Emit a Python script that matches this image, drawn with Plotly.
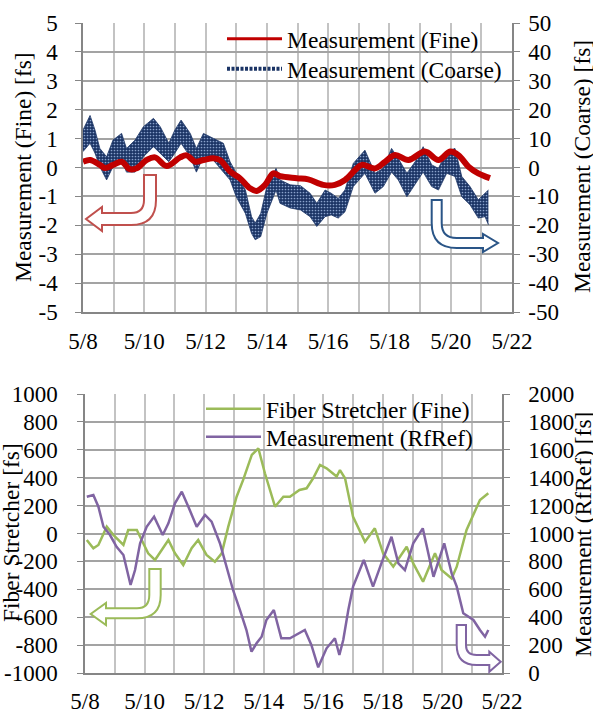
import plotly.graph_objects as go

W, H = 593, 711

# ---------------- data (day of May) ----------------
fine_day = [8.0, 8.23, 8.55, 8.72, 8.98, 9.26, 9.53, 9.75, 10.08, 10.35, 10.73, 11.17, 11.38, 11.66,
            11.93, 12.25, 12.47, 12.8, 13.12, 13.45, 13.67, 13.94, 14.21, 14.43, 14.98, 15.35, 15.84,
            16.22, 16.55, 16.88, 17.1, 17.53, 17.86, 18.18, 18.62, 19.16, 19.6, 19.98, 20.25, 20.58,
            20.9, 21.28]
fine_val = [0.2, 0.26, 0.09, -0.02, 0.09, 0.2, -0.06, -0.03, 0.26, 0.35, 0.05, 0.35, 0.42, 0.2,
            0.26, 0.32, 0.26, -0.14, -0.37, -0.72, -0.81, -0.6, -0.2, -0.3, -0.37, -0.41, -0.6,
            -0.6, -0.43, -0.09, 0.09, -0.03, 0.2, 0.43, 0.26, 0.55, 0.26, 0.55, 0.43, 0.03,
            -0.2, -0.37]

coarse_day = [8.0, 8.23, 8.39, 8.55, 8.77, 8.98, 9.26, 9.42, 9.7, 9.97,
              10.3, 10.52, 10.8, 11.0, 11.2, 11.5, 11.7, 11.93, 12.25, 12.58,
              12.8, 13.0, 13.3, 13.5, 13.62, 13.8, 14.0, 14.3, 14.43, 14.76,
              15.1, 15.41, 15.63, 15.9, 16.1, 16.33, 16.55, 16.82, 17.2, 17.53,
              17.8, 18.07, 18.29, 18.57, 18.84, 19.1, 19.38, 19.6, 19.87, 20.14,
              20.36, 20.63, 20.9, 21.12, 21.23]
coarse_hi = [13, 18, 13, 6.6, 3.7, 9.5, 11.8, 6.6, 9.5, 14.1,
             17, 14.1, 8.4, 13, 16.4, 11.8, 6.6, 11.8, 10.1, 8.4,
             2, -2, -7.8, -17, -19.2, -15.9, -6.6, -0.3, -4.3, -6,
             -6.3, -8.9, -12.4, -7.8, -8.9, -10.7, -7.8, 1.4, 6, -2,
             -0.3, 6.6, 3.1, -2, 2, 7.2, 0.9, -0.3, 5.5, 6.6,
             -3.1, -6.6, -11.2, -8.9, -7.8]
coarse_lo = [5.5, 8.4, 5, 0.3, -4.3, 0.3, 2.6, -1.6, -1.6, 3.7,
             7.2, 4.9, 2, 5, 8.4, 3.7, -1.6, 3.7, 2.6, -1.6,
             -4.3, -10.1, -15.9, -22.8, -25, -23.9, -15.9, -7.8, -12.4, -14,
             -14.7, -17, -20.4, -17, -16.4, -17.5, -15.3, -6.6, -2, -8.9,
             -6.6, -1.6, -4.3, -10.1, -6, -1.6, -6.6, -7.8, -2, -3.1,
             -10.1, -12.9, -17.5, -17, -19.8]

fs_day = [8.06, 8.28, 8.45, 8.73, 8.95, 9.29, 9.45, 9.74, 9.85, 10.12,
          10.35, 10.8, 11.02, 11.3, 11.58, 11.8, 12.08, 12.36, 12.59, 12.81,
          13.09, 13.31, 13.6, 13.82, 14.04, 14.38, 14.66, 14.88, 15.2, 15.44,
          15.66, 15.89, 16.11, 16.45, 16.56, 16.73, 17.0, 17.4, 17.73, 18.01,
          18.35, 18.8, 19.02, 19.35, 19.75, 19.97, 20.31, 20.48, 20.81, 21.26,
          21.54]
fs_val = [-47, -106, -82, 49, -10, -82, 25, 25, -23, -142,
          -190, -47, -142, -226, -106, -47, -154, -202, -142, 49,
          264, 384, 563, 611, 432, 192, 264, 264, 312, 324,
          396, 491, 467, 408, 455, 396, 120, -59, 37, -142,
          -238, -95, -214, -346, -142, -262, -322, -238, 25, 240,
          288]

rf_day = [8.06, 8.28, 8.45, 8.62, 8.84, 9.06, 9.29, 9.53, 9.68, 9.85,
          10.07, 10.32, 10.61, 10.8, 11.02, 11.25, 11.47, 11.75, 12.03, 12.25,
          12.53, 12.75, 12.97, 13.2, 13.42, 13.59, 13.76, 13.93, 14.09, 14.34,
          14.59, 14.88, 15.16, 15.38, 15.6, 15.83, 16.11, 16.39, 16.54, 16.67,
          16.84, 17.0, 17.36, 17.67, 17.95, 18.29, 18.52, 18.74, 19.02, 19.34,
          19.7, 20.06, 20.31, 20.48, 20.7, 21.04, 21.26, 21.43, 21.54]
rf_val = [1264, 1276, 1192, 1048, 989, 905, 846, 631, 738, 930,
          1048, 1121, 989, 1073, 1216, 1300, 1192, 1048, 1133, 1085,
          930, 762, 595, 452, 308, 153, 213, 260, 380, 452,
          249, 249, 285, 308, 201, 41, 177, 249, 129, 237,
          452, 619, 810, 619, 786, 977, 786, 738, 930, 1037,
          690, 930, 714, 619, 428, 380, 308, 260, 308]

x_tickvals = [8, 10, 12, 14, 16, 18, 20, 22]
x_ticktext = ["5/8", "5/10", "5/12", "5/14", "5/16", "5/18", "5/20", "5/22"]
fine_ticks = [-5, -4, -3, -2, -1, 0, 1, 2, 3, 4, 5]
coarse_ticks = [-50, -40, -30, -20, -10, 0, 10, 20, 30, 40, 50]
fs_ticks = [-1000, -800, -600, -400, -200, 0, 200, 400, 600, 800, 1000]
rf_ticks = [0, 200, 400, 600, 800, 1000, 1200, 1400, 1600, 1800, 2000]

# ---------------- styling ----------------
FONT = "Liberation Serif"
TICK_SIZE = 23
TEXT_SIZE = 23.5
RED, NAVY, GREEN, PURPLE = "#c00000", "#1b3465", "#9bbb59", "#8064a2"
GRID_V, GRID_H, AXC = "#c3c3c3", "#a3a3a3", "#868686"


def fx(p):
    return p / W


def fy(p):
    return 1 - p / H


def labels(vals):
    return [str(v) for v in vals]  # plain hyphen minus, as in the reference


fig = go.Figure()

# legend entries (legend-only traces carry no data)
fig.add_trace(go.Scatter(x=[None], y=[None], mode="lines", name="Measurement (Fine)",
                         line=dict(color=RED, width=3), xaxis="x", yaxis="y2", legend="legend"))
fig.add_trace(go.Scatter(x=[None], y=[None], mode="lines", name="Measurement (Coarse)",
                         line=dict(color=NAVY, width=4, dash="3px,1.5px"), xaxis="x", yaxis="y",
                         legend="legend2"))

fig.add_trace(go.Scatter(x=coarse_day, y=coarse_hi, mode="lines", showlegend=False,
                         line=dict(color=NAVY, width=0.8), xaxis="x", yaxis="y"))
fig.add_trace(go.Scatter(x=coarse_day, y=coarse_lo, mode="lines", showlegend=False,
                         line=dict(color=NAVY, width=0.8), fill="tonexty", fillcolor=NAVY,
                         fillpattern=dict(shape=".", size=3, solidity=0.25, fgcolor="#8aa2cc",
                                          bgcolor=NAVY),
                         xaxis="x", yaxis="y"))
fig.add_trace(go.Scatter(x=fine_day, y=fine_val, mode="lines", showlegend=False,
                         line=dict(color=RED, width=6, shape="spline"), xaxis="x", yaxis="y2"))

fig.add_trace(go.Scatter(x=fs_day, y=fs_val, mode="lines", name="Fiber Stretcher (Fine)",
                         line=dict(color=GREEN, width=2.5), xaxis="x2", yaxis="y3",
                         legend="legend3"))
fig.add_trace(go.Scatter(x=rf_day, y=rf_val, mode="lines", name="Measurement (RfRef)",
                         line=dict(color=PURPLE, width=2.5), xaxis="x2", yaxis="y4",
                         legend="legend4"))

tickfont = dict(family=FONT, size=TICK_SIZE, color="black")

xcommon = dict(range=[8, 22], tickmode="array", tickvals=x_tickvals, ticktext=x_ticktext,
               showgrid=True, gridcolor=GRID_V, gridwidth=1.5,
               minor=dict(tickmode="linear", tick0=8, dtick=1, showgrid=True,
                          gridcolor=GRID_V, gridwidth=1.5),
               showline=True, linecolor=AXC, linewidth=1.5, ticks="", tickfont=tickfont,
               zeroline=False, automargin=False)
ycommon = dict(showline=True, linecolor=AXC, linewidth=1.5, ticks="outside", ticklen=6,
               tickcolor=AXC, tickfont=tickfont, zeroline=False, automargin=False,
               tickmode="array")


def legend_at(x, y):
    return dict(x=fx(x), y=fy(y), xanchor="left", yanchor="top", bgcolor="rgba(0,0,0,0)",
                font=dict(family=FONT, size=TEXT_SIZE), itemwidth=55, tracegroupgap=0,
                traceorder="normal")


fig.update_layout(
    template="none",
    width=W, height=H, margin=dict(l=0, r=0, t=0, b=0, autoexpand=False),
    paper_bgcolor="white", plot_bgcolor="white",
    font=dict(family=FONT, size=TEXT_SIZE, color="black"),
    xaxis=dict(domain=[fx(83), fx(512)], anchor="y", ticklabelstandoff=8, **xcommon),
    yaxis=dict(domain=[fy(312), fy(23)], anchor="x", side="right", range=[-50, 50],
               tickvals=coarse_ticks, ticktext=labels(coarse_ticks),
               showgrid=False, ticklabelstandoff=4, **ycommon),
    yaxis2=dict(overlaying="y", anchor="x", side="left", range=[-5, 5],
                tickvals=fine_ticks, ticktext=labels(fine_ticks),
                showgrid=True, gridcolor=GRID_H, gridwidth=1.5, ticklabelstandoff=13, **ycommon),
    xaxis2=dict(domain=[fx(85), fx(502)], anchor="y3", ticklabelstandoff=7, **xcommon),
    yaxis3=dict(domain=[fy(673), fy(394)], anchor="x2", side="left", range=[-1000, 1000],
                tickvals=fs_ticks, ticktext=labels(fs_ticks),
                showgrid=True, gridcolor=GRID_H, gridwidth=1.5,
                ticklabelstandoff=15, **ycommon),
    yaxis4=dict(overlaying="y3", anchor="x2", side="right", range=[0, 2000],
                tickvals=rf_ticks, ticktext=labels(rf_ticks),
                showgrid=False, ticklabelstandoff=14, **ycommon),
    legend=legend_at(222, 17),
    legend2=legend_at(222, 47),
    legend3=legend_at(201, 387),
    legend4=legend_at(201, 415),
    showlegend=True,
)

# axis titles
titles = [("Measurement (Fine) [fs]", 23, 167),
          ("Measurement (Coarse) [fs]", 582, 167),
          ("Fiber Stretcher [fs]", 11, 533),
          ("Measurement (RfRef) [fs]", 583, 535)]
for txt, x, y in titles:
    fig.add_annotation(text=txt, x=fx(x), y=fy(y), xref="paper", yref="paper",
                       textangle=-90, showarrow=False, xanchor="center", yanchor="middle",
                       font=dict(family=FONT, size=TEXT_SIZE, color="black"))


# curved hollow arrows (pixel coordinates -> paper)
def path(cmds):
    out = []
    for c in cmds:
        if isinstance(c, str):
            out.append(c)
        else:
            out.append(f"{fx(c[0]):.5f},{fy(c[1]):.5f}")
    return " ".join(out)


arrows = [
    (["M", (144, 175), "L", (156, 175), "L", (156, 200), "Q", (156, 225), (131, 225),
      "L", (102, 225), "L", (102, 231), "L", (86, 219), "L", (102, 207), "L", (102, 213),
      "L", (131, 213), "Q", (144, 213), (144, 200), "Z"], "#c0504d"),
    (["M", (431.7, 200), "L", (441.7, 200), "L", (441.7, 223), "Q", (441.7, 238), (456.7, 238),
      "L", (483, 238), "L", (483, 234), "L", (498, 243), "L", (483, 252), "L", (483, 248),
      "L", (456.7, 248), "Q", (431.7, 248), (431.7, 223), "Z"], "#2a5587"),
    (["M", (149.3, 569), "L", (160.7, 569), "L", (160.7, 595), "Q", (160.7, 618.3), (137, 618.3),
      "L", (106, 618.3), "L", (106, 625), "L", (90.7, 614), "L", (106, 603), "L", (106, 608.3),
      "L", (137, 608.3), "Q", (149.3, 608.3), (149.3, 595), "Z"], GREEN),
    (["M", (456.7, 625), "L", (466, 625), "L", (466, 645), "Q", (466, 655), (476.7, 655),
      "L", (489.3, 655), "L", (489.3, 651.7), "L", (500.7, 661.7), "L", (489.3, 671.7),
      "L", (489.3, 665), "L", (476.7, 665), "Q", (456.7, 665), (456.7, 645), "Z"], PURPLE),
]
for cmds, col in arrows:
    fig.add_shape(type="path", path=path(cmds), xref="paper", yref="paper",
                  line=dict(color=col, width=2), fillcolor="white", layer="above")

fig.write_html("out.html", config={"displayModeBar": False},
               post_script="document.body.style.margin='0px';")
